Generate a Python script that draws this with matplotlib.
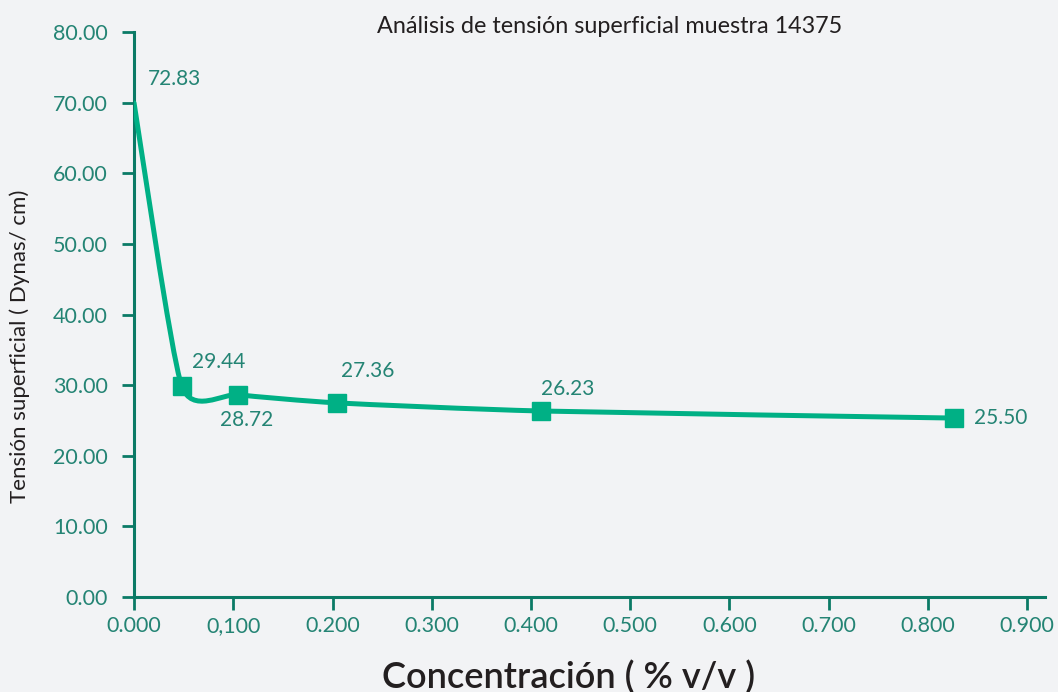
#! /usr/bin/env python3
# -*- coding: utf-8 -*-

import numpy as np
import matplotlib
matplotlib.use("Agg")
import matplotlib.pyplot as plt
from matplotlib.path import Path
from matplotlib.patches import PathPatch


## Data

conc = [0.000, 0.048, 0.105, 0.2045, 0.410, 0.826]
tension = [70.0, 29.9, 28.65, 27.5, 26.35, 25.35]
labels = ["72.83", "29.44", "28.72", "27.36", "26.23", "25.50"]
# label offsets (points) relative to each point
label_off = [(29, 17), (27, 17), (6, -18), (22, 23), (19, 16), (34, 0)]

x_ticks = [0.0, 0.1, 0.2, 0.3, 0.4, 0.5, 0.6, 0.7, 0.8, 0.9]
x_ticklabels = ["0.000", "0,100", "0.200", "0.300", "0.400", "0.500",
                "0.600", "0.700", "0.800", "0.900"]
y_ticks = [0, 10, 20, 30, 40, 50, 60, 70, 80]

## Style

BG = "#f2f3f5"
AXIS = "#0b7a66"
TEXT_TEAL = "#248474"
LINE = "#00b085"
FONT = ["Lato", "DejaVu Sans"]

plt.rcParams["font.family"] = FONT


def smooth_path(xs, ys, k=0.6):
    # bezier segments through the points (catmull-rom like)
    pts = np.column_stack([xs, ys])
    n = len(pts)
    verts = [pts[0]]
    codes = [Path.MOVETO]
    for i in range(n - 1):
        p0 = pts[i - 1] if i > 0 else pts[i]
        p1 = pts[i]
        p2 = pts[i + 1]
        p3 = pts[i + 2] if i + 2 < n else pts[i + 1]
        c1 = p1 + (p2 - p0) / 6.0 * k
        c2 = p2 - (p3 - p1) / 6.0 * k
        verts += [c1, c2, p2]
        codes += [Path.CURVE4] * 3
    return Path(verts, codes)


def main():
    fig = plt.figure(figsize=(10.58, 6.92), dpi=100, facecolor=BG)
    ax = fig.add_axes([0.1267, 0.1373, 0.8610, 0.8160])
    ax.set_facecolor(BG)

    patch = PathPatch(smooth_path(conc, tension), facecolor="none",
                      edgecolor=LINE, lw=3.6, capstyle="round", zorder=3)
    ax.add_patch(patch)
    ax.plot(conc[1:], tension[1:], ls="none", marker="s", ms=12.5,
            color=LINE, zorder=4)

    for xv, yv, lab, off in zip(conc, tension, labels, label_off):
        ax.annotate(lab, (xv, yv), xytext=off, textcoords="offset points",
                    ha="center", va="center", fontsize=15, color=TEXT_TEAL)

    ax.set_xlim(0, 0.918)
    ax.set_ylim(0, 80)
    ax.set_xticks(x_ticks)
    ax.set_xticklabels(x_ticklabels)
    ax.set_yticks(y_ticks)
    ax.set_yticklabels(["{:.2f}".format(v) for v in y_ticks])

    for s in ["top", "right"]:
        ax.spines[s].set_visible(False)
    for s in ["left", "bottom"]:
        ax.spines[s].set_color(AXIS)
        ax.spines[s].set_linewidth(2.2)

    ax.tick_params(axis="both", colors=AXIS, labelcolor=TEXT_TEAL,
                   labelsize=15.5, length=9, width=2)
    ax.tick_params(axis="y", pad=10)
    ax.tick_params(axis="x", pad=5)

    fig.text(569 / 1058, 1 - 677 / 692, "Concentración ( % v/v )",
             ha="center", va="center", fontsize=26, weight="semibold",
             color="#231f20")
    fig.text(0.0189, 0.5, "Tensión superficial ( Dynas/ cm)", rotation=90,
             ha="center", va="center", fontsize=16, color="#231f20")
    fig.text(0.5766, 0.961, "Análisis de tensión superficial muestra 14375",
             ha="center", va="center", fontsize=16.8, color="#231f20")

    fig.savefig("out.png", dpi=100, facecolor=BG)


if __name__ == "__main__":
    main()
